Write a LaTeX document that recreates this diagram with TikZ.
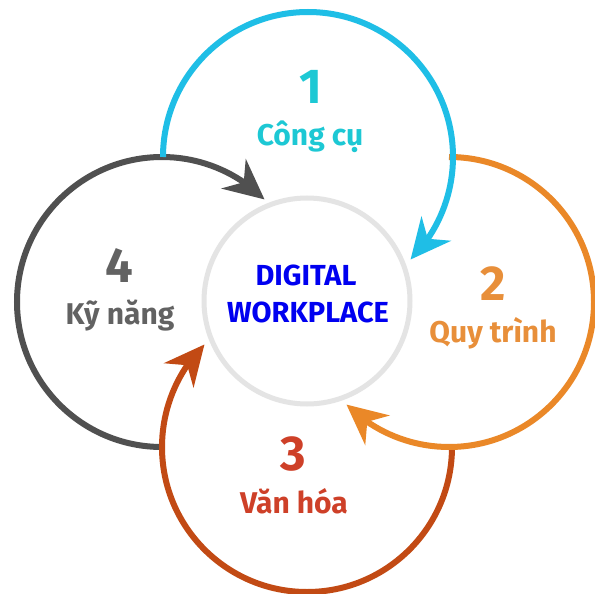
\documentclass[tikz,border=0pt]{standalone}
\usepackage{fontspec}
\setmainfont{Fira Sans}
\usetikzlibrary{arrows.meta,bending}
\definecolor{cyanarc}{RGB}{31,190,230}
\definecolor{cyantext}{RGB}{29,200,212}
\definecolor{orangearc}{RGB}{234,136,40}
\definecolor{orangetext}{RGB}{232,143,58}
\definecolor{brownarc}{RGB}{194,74,20}
\definecolor{redtext}{RGB}{206,64,40}
\definecolor{grayarc}{RGB}{80,80,80}
\definecolor{graytext}{RGB}{98,98,98}
\definecolor{ringgray}{RGB}{228,228,228}
\definecolor{hubblue}{RGB}{0,0,240}
\begin{document}
\begin{tikzpicture}[x=1pt,y=-1pt,
  arcline/.style={line width=6pt},
  tipped/.style={-{Stealth[length=40pt,width=38pt,inset=13pt]}},
  num/.style={font=\bfseries\fontsize{49}{49}\selectfont, anchor=base},
  lab/.style={font=\bfseries\fontsize{30}{30}\selectfont, anchor=base},
  hubtext/.style={font=\bfseries\fontsize{29}{29}\selectfont, anchor=base, text=hubblue}]
\useasboundingbox (0,0) rectangle (595,594);
\fill[white] (0,0) rectangle (595,594);
% hub
\node[circle, draw=ringgray, line width=5pt, minimum size=206pt, inner sep=0pt] (hub) at (307,301) {};
\node[hubtext] (hubA) at (306,285) {DIGITAL};
\node[hubtext] (hubB) at (308,322) {WORKPLACE};
% start points
\coordinate (s1) at (163,157);
\coordinate (s2) at (449,157);
\coordinate (s3) at (452,447);
\coordinate (s4) at (162,447);
% arcs
\draw[arcline, grayarc, tipped] (s4) arc[start angle=90, end angle=315, radius=145];
\draw[arcline, brownarc, tipped] (s3) arc[start angle=0, end angle=225, radius=145];
\draw[arcline, orangearc, tipped] (s2) arc[start angle=270, end angle=495, radius=145];
\draw[arcline, cyanarc, tipped] (s1) arc[start angle=180, end angle=405, radius=145];
% labels
\node[num, text=cyantext] (n1) at (311,103) {1};
\node[lab, text=cyantext] (l1) at (310,145) {Công cụ};
\node[num, text=orangetext] (n2) at (493,300) {2};
\node[lab, text=orangetext] (l2) at (493,342) {Quy trình};
\node[num, text=redtext] (n3) at (293,470) {3};
\node[lab, text=redtext] (l3) at (294,513) {Văn hóa};
\node[num, text=graytext] (n4) at (119,282) {4};
\node[lab, text=graytext] (l4) at (120,324) {Kỹ năng};
\end{tikzpicture}
\end{document}
